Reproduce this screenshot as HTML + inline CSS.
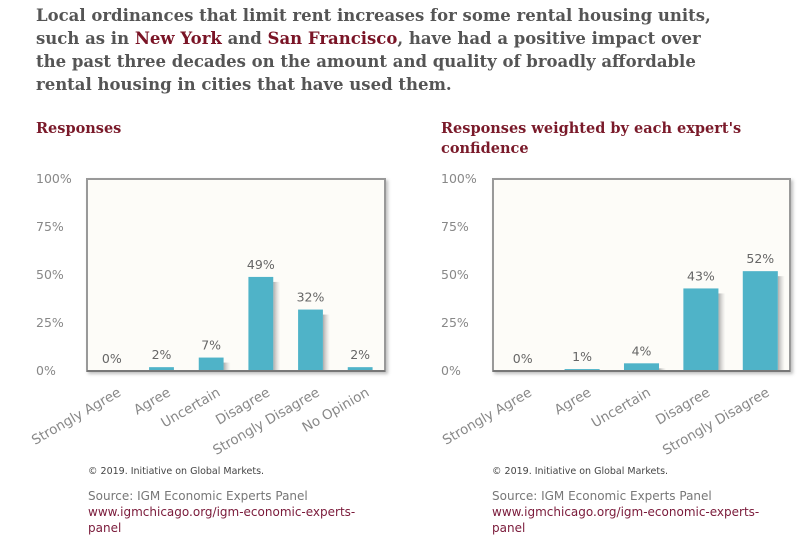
<!DOCTYPE html>
<html><head><meta charset="utf-8">
<style>
body{margin:0;width:810px;height:541px;background:#fff;overflow:hidden;position:relative;font-family:"DejaVu Sans","Liberation Sans",sans-serif}
#title{position:absolute;left:36px;top:4px;width:780px;white-space:nowrap;font:bold 16.5px/23px "DejaVu Serif","Liberation Serif",serif;color:#555}
#title b{color:#7a1426}
.sub{position:absolute;white-space:nowrap;font:bold 14.5px/20px "DejaVu Serif","Liberation Serif",serif;color:#7a1a2a}
.foot{position:absolute;font-size:9.5px;color:#444}
.src{position:absolute;font-size:12px;line-height:16px;color:#777}
.src span{color:#7a1a3a}
svg{position:absolute;left:0;top:0}
</style></head><body>
<div id="title">Local ordinances that limit rent increases for some rental housing units,<br>such as in <b>New York</b> and <b>San Francisco</b>, have had a positive impact over<br>the past three decades on the amount and quality of broadly affordable<br>rental housing in cities that have used them.</div>
<div class="sub" style="left:36px;top:119px">Responses</div>
<div class="sub" style="left:441px;top:119px">Responses weighted by each expert's<br>confidence</div>
<div class="foot" style="left:88px;top:466px">© 2019. Initiative on Global Markets.</div>
<div class="src" style="left:88px;top:488px">Source: IGM Economic Experts Panel<br><span>www.igmchicago.org/igm-economic-experts-<br>panel</span></div>
<div class="foot" style="left:492px;top:466px">© 2019. Initiative on Global Markets.</div>
<div class="src" style="left:492px;top:488px">Source: IGM Economic Experts Panel<br><span>www.igmchicago.org/igm-economic-experts-<br>panel</span></div>
<svg id="svg" width="810" height="541">
<defs>
<linearGradient id="sh" x1="0" x2="1"><stop offset="0" stop-color="#888" stop-opacity="0.7"/><stop offset="1" stop-color="#bbb" stop-opacity="0"/></linearGradient>
<filter id="bs" x="-5%" y="-5%" width="115%" height="115%"><feDropShadow dx="2" dy="2" stdDeviation="1.5" flood-color="#000" flood-opacity="0.25"/></filter>
</defs>
</svg>
<script>
const leftCategories=["Strongly Agree","Agree","Uncertain","Disagree","Strongly Disagree","No Opinion"];
const leftValues=[0,2,7,49,32,2];
const rightCategories=["Strongly Agree","Agree","Uncertain","Disagree","Strongly Disagree"];
const rightValues=[0,1,4,43,52];
const yTicks=[0,25,50,75,100];
const NS="http://www.w3.org/2000/svg";
const svg=document.getElementById('svg');
function mk(t,a,p){const e=document.createElementNS(NS,t);for(const k in a)e.setAttribute(k,a[k]);(p||svg).appendChild(e);return e;}
function chart(id,x0,x1,cats,vals,barFrac,tickX){
  const y0=371,y1=179;
  const ys=v=>y0-(v/100)*(y0-y1);
  const band=(x1-x0)/cats.length;
  const xs=i=>x0+band*(i+0.5);
  const g=mk('g',{});
  
  
  const box=mk('rect',{x:x0,y:y1,width:x1-x0,height:y0-y1,fill:'#fdfcf8',stroke:'#999','stroke-width':2,filter:'url(#bs)'},g);
  
  
  yTicks.forEach(t=>{
    const tx=mk('text',{x:tickX,y:ys(t)+4,'font-size':12.5,fill:'#888'},g);
    tx.textContent=t+'%';
    
    
  });
  const bw=band*barFrac;
  cats.forEach((c,i)=>{
    const v=vals[i],cx=xs(i),top=ys(v);
    if(v>0){
      mk('rect',{x:cx+bw/2,y:top+5,width:7,height:y0-top-5,fill:'url(#sh)'},g);
      const b=mk('rect',{x:cx-bw/2,y:top,width:bw,height:y0-top,fill:'#4fb3c8'},g);
      
      
    }
    const lab=mk('text',{x:cx,y:top-8,'font-size':12.5,fill:'#666','text-anchor':'middle'},g);
    lab.textContent=v+'%';
    
    
    const lx=cx+10,ly=y0+24;
    const xl=mk('text',{x:lx,y:ly,'font-size':13.5,fill:'#888','text-anchor':'end',transform:'rotate(-30 '+lx+' '+ly+')'},g);
    xl.textContent=c;
    
    
  });
  mk('line',{x1:x0,x2:x1,y1:y0,y2:y0,stroke:'#777','stroke-width':2},g);
}
chart('left',87,385,leftCategories,leftValues,0.5,36);
chart('right',493,790,rightCategories,rightValues,0.59,441);
</script>
</body></html>
